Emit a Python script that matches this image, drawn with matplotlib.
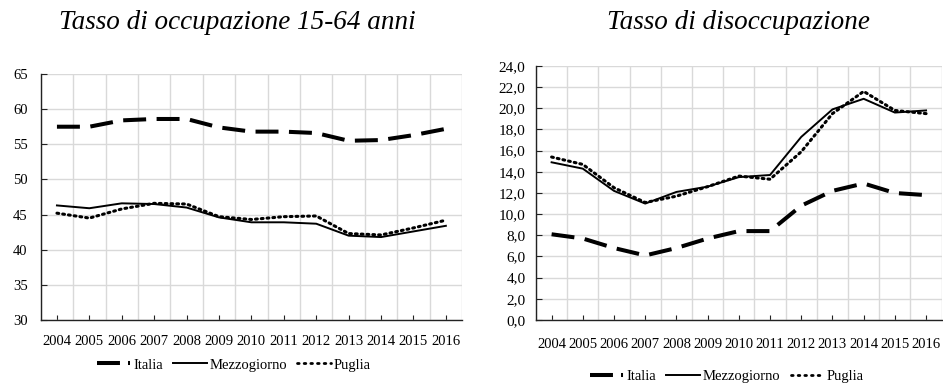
import matplotlib
matplotlib.use("Agg")
import matplotlib.pyplot as plt
from matplotlib.lines import Line2D
import numpy as np

years = ["2004", "2005", "2006", "2007", "2008", "2009", "2010",
         "2011", "2012", "2013", "2014", "2015", "2016"]

occ_italia = [57.5, 57.5, 58.4, 58.6, 58.6, 57.4, 56.8, 56.8, 56.6, 55.5, 55.6, 56.3, 57.2]
occ_mezzogiorno = [46.3, 45.9, 46.6, 46.5, 46.0, 44.6, 43.9, 43.9, 43.7, 42.0, 41.8, 42.6, 43.4]
occ_puglia = [45.2, 44.5, 45.8, 46.6, 46.5, 44.7, 44.3, 44.7, 44.8, 42.3, 42.1, 43.1, 44.2]

dis_italia = [8.1, 7.7, 6.8, 6.1, 6.8, 7.7, 8.4, 8.4, 10.8, 12.2, 12.9, 12.0, 11.8]
dis_mezzogiorno = [14.9, 14.3, 12.2, 11.0, 12.1, 12.6, 13.5, 13.7, 17.3, 19.9, 20.9, 19.6, 19.8]
dis_puglia = [15.4, 14.7, 12.5, 11.1, 11.7, 12.6, 13.6, 13.3, 15.9, 19.5, 21.6, 19.8, 19.5]

series_names = ["Italia", "Mezzogiorno", "Puglia"]

plt.rcParams['font.family'] = ['Liberation Serif', 'DejaVu Serif']

fig = plt.figure(figsize=(9.43, 3.83), dpi=100)

grid_c = "#d9d9d9"
x = np.arange(len(years))

def style(ax, ylim, step, fmt, xfs, yfs, xpad, ypad):
    ax.set_xlim(-0.5, len(years) - 0.5)
    ax.set_ylim(*ylim)
    ax.set_xticks(x)
    ax.set_xticklabels(years, fontsize=xfs)
    ax.set_xticks(np.arange(-0.5, len(years)), minor=True)
    yt = np.arange(ylim[0], ylim[1] + step / 2, step)
    ax.set_yticks(yt)
    ax.set_yticklabels([fmt(v) for v in yt], fontsize=yfs)
    ax.grid(False)
    ax.grid(True, which="minor", axis="x", color=grid_c, lw=1.0)
    ax.grid(True, which="major", axis="y", color=grid_c, lw=1.0)
    ax.tick_params(axis="x", which="major", direction="in", length=3.5, width=0.8, pad=xpad, color="#222222")
    ax.tick_params(axis="x", which="minor", length=0)
    ax.tick_params(axis="y", which="major", direction="in", length=4, width=0.8, pad=ypad, color="#222222")
    for s in ["top", "right"]:
        ax.spines[s].set_visible(False)
    for s in ["left", "bottom"]:
        ax.spines[s].set_color("#222222")
        ax.spines[s].set_linewidth(1.0)
    ax.set_axisbelow(True)

def draw(ax, it, me, pu):
    ax.plot(x, it, color="black", lw=2.9, dashes=(5.7, 2.6), zorder=3)
    ax.plot(x, me, color="black", lw=1.4, zorder=3)
    ax.plot(x, pu, color="black", lw=2.2, linestyle=(0, (0.6, 1.3)), dash_capstyle="round", zorder=3)

def legend(anchor):
    handles = [
        Line2D([], [], color="black", lw=2.9, dashes=(5.7, 2.0, 0.5, 20)),
        Line2D([], [], color="black", lw=1.4),
        Line2D([], [], color="black", lw=2.0, linestyle=(0, (0.6, 1.8)), dash_capstyle="round"),
    ]
    fig.legend(handles, series_names, loc="center", bbox_to_anchor=anchor,
               bbox_transform=fig.transFigure,
               ncol=3, frameon=False, fontsize=10.5, handlelength=2.3,
               handletextpad=0.2, columnspacing=0.7, borderpad=0, borderaxespad=0)

ax1 = fig.add_axes([0.0432, 0.1645, 0.4468, 0.6423])
draw(ax1, occ_italia, occ_mezzogiorno, occ_puglia)
style(ax1, (30, 65), 5, lambda v: f"{int(v)}", 10.5, 10.5, 10.5, 9.5)
legend((0.248, 0.047))

ax2 = fig.add_axes([0.5684, 0.1645, 0.4302, 0.6632])
draw(ax2, dis_italia, dis_mezzogiorno, dis_puglia)
style(ax2, (0, 24), 2, lambda v: f"{v:.1f}".replace(".", ","), 10.5, 11, 13, 7.5)
legend((0.771, 0.018))

fig.text(0.252, 0.942, "Tasso di occupazione 15-64 anni", ha="center", va="center",
         fontsize=19.5, style="italic")
fig.text(0.783, 0.942, "Tasso di disoccupazione", ha="center", va="center",
         fontsize=19.5, style="italic")

fig.savefig("out.png", dpi=100)
